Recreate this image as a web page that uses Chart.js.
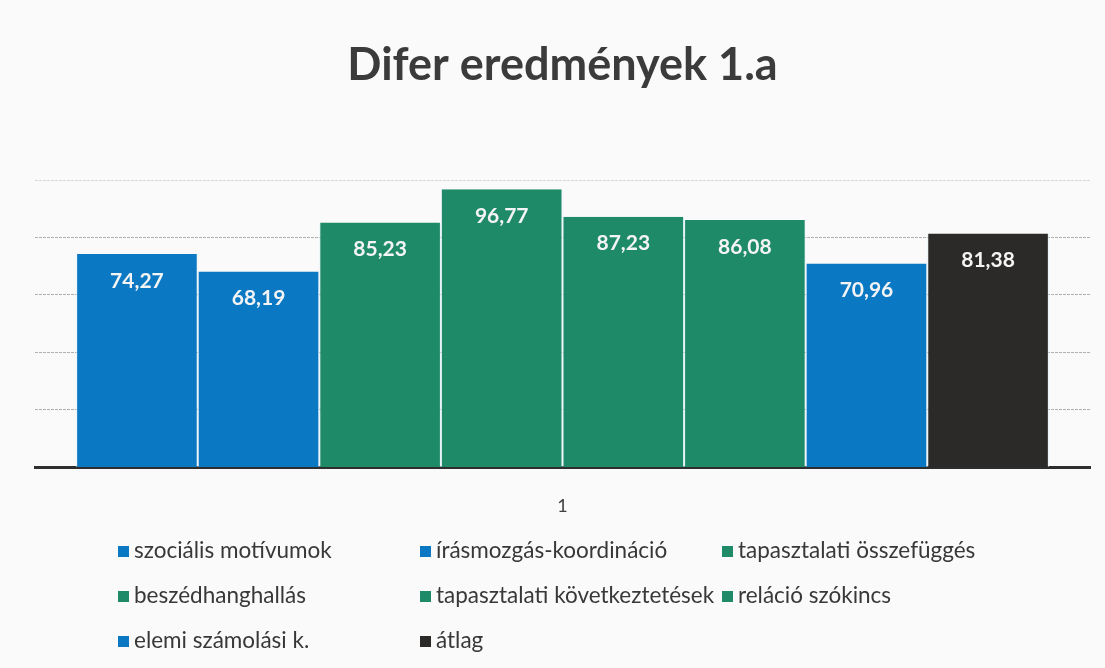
<!DOCTYPE html>
<html>
<head>
<meta charset="utf-8">
<script src="https://cdn.jsdelivr.net/npm/chart.js"></script>
<style>
    html, body { margin: 0; padding: 0; background: #fafafa; }
    #wrap { position: relative; width: 1105px; height: 668px; }
    #chart-box { position: absolute; left: 0; top: 0; width: 1105px; height: 555px; }
    #legend {
        position: absolute; left: 118px; top: 527px; width: 960px;
        display: grid; grid-template-columns: 302px 302px 340px;
        grid-auto-rows: 45px; align-items: center;
        font-family: Lato, 'Open Sans', sans-serif; font-size: 22.5px; color: #383838;
        white-space: nowrap;
    }
    #legend span.box { display: inline-block; width: 11px; height: 11px; margin-right: 5px; vertical-align: 1px; }
</style>
</head>
<body>
<div id="wrap">
    <div id="chart-box"><canvas id="chart"></canvas></div>
    <div id="legend"></div>
</div>
<script>
const categories = ['1'];
const seriesNames = [
    'szociális motívumok',
    'írásmozgás-koordináció',
    'tapasztalati összefüggés',
    'beszédhanghallás',
    'tapasztalati következtetések',
    'reláció szókincs',
    'elemi számolási k.',
    'átlag'
];
const seriesValues = [74.27, 68.19, 85.23, 96.77, 87.23, 86.08, 70.96, 81.38];
const seriesColors = ['#0b78c3', '#0b78c3', '#1f8a68', '#1f8a68', '#1f8a68', '#1f8a68', '#0b78c3', '#2b2a28'];
const yTicks = [0, 20, 40, 60, 80, 100];

const fontName = 'Lato, "Open Sans", sans-serif';

// white value labels near the top of each bar, with decimal comma
const valueLabels = {
    id: 'valueLabels',
    afterDatasetsDraw(chart) {
        const ctx = chart.ctx;
        ctx.save();
        ctx.font = 'bold 21px ' + fontName;
        ctx.fillStyle = '#f4f4f4';
        ctx.textAlign = 'center';
        ctx.textBaseline = 'middle';
        chart.data.datasets.forEach((ds, i) => {
            const meta = chart.getDatasetMeta(i);
            meta.data.forEach((bar, j) => {
                const text = ds.data[j].toFixed(2).replace('.', ',');
                ctx.fillText(text, bar.x, bar.y + 27);
            });
        });
        ctx.restore();
    }
};

const bgFill = {
    id: 'bgFill',
    beforeDraw(chart) {
        const ctx = chart.ctx;
        ctx.save();
        ctx.fillStyle = '#fafafa';
        ctx.fillRect(0, 0, chart.width, chart.height);
        ctx.restore();
    }
};

function buildLegend() {
    const legend = document.getElementById('legend');
    seriesNames.forEach((name, i) => {
        const item = document.createElement('div');
        item.innerHTML = `<span class="box" style="background:${seriesColors[i]}"></span>${name}`;
        legend.appendChild(item);
    });
}

function drawChart() {
    const context = document.getElementById('chart');
    const data = {
        labels: categories,
        datasets: seriesNames.map((name, i) => ({
            label: name,
            data: [seriesValues[i]],
            backgroundColor: seriesColors[i],
            borderColor: 'rgba(220,240,250,0.7)',
            borderWidth: {left: 1, right: 1, top: 0, bottom: 0},
            categoryPercentage: 0.922,
            barPercentage: 1
        }))
    };

    new Chart(context, {
        type: 'bar',
        data: data,
        plugins: [bgFill, valueLabels],
        options: {
            responsive: true,
            maintainAspectRatio: false,
            animation: false,
            layout: { padding: { left: 35, right: 15, top: 0, bottom: 10 } },
            plugins: {
                legend: { display: false },
                tooltip: { enabled: false },
                title: {
                    display: true,
                    text: 'Difer eredmények 1.a',
                    color: '#3b3b3b',
                    font: { family: fontName, size: 45, weight: 'bold' },
                    padding: { top: 38, bottom: 88 }
                }
            },
            scales: {
                x: {
                    grid: { display: false, drawTicks: false },
                    border: { display: true, color: '#2e2e2e', width: 3 },
                    ticks: { color: '#404040', padding: 28, font: { family: fontName, size: 18 } }
                },
                y: {
                    min: 0,
                    max: 100,
                    afterBuildTicks: (axis) => { axis.ticks = yTicks.map(v => ({ value: v })); },
                    ticks: { display: false },
                    border: { display: false, dash: [3, 1] },
                    grid: {
                        drawTicks: false,
                        color: (c) => c.tick.value === 0 ? 'rgba(0,0,0,0)' : (c.tick.value === 100 ? '#d6d6d6' : '#b0b0b0')
                    }
                }
            }
        }
    });
}

function init() {
    buildLegend();
    drawChart();
}

init();
</script>
</body>
</html>
